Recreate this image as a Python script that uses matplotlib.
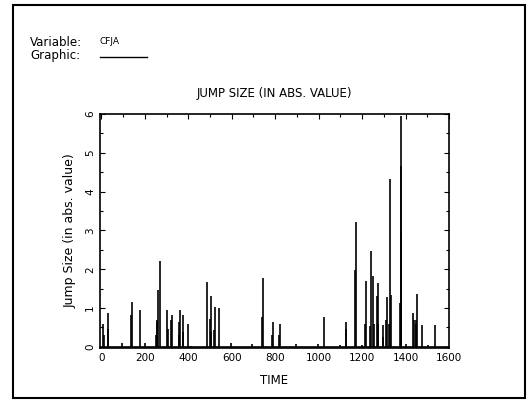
import matplotlib
matplotlib.use("Agg")
import matplotlib.pyplot as plt
from matplotlib.patches import Rectangle
from matplotlib.ticker import MultipleLocator

# Jump times and absolute jump sizes
jump_time = [6, 12, 29, 32, 94, 137, 140, 179, 199, 252, 255, 258, 263, 268,
             303, 306, 322, 324, 356, 358, 361, 374, 376, 397, 412, 486, 500,
             505, 507, 520, 522, 540, 595, 694, 740, 745, 786, 791, 819, 822,
             897, 998, 1025, 1098, 1126, 1128, 1169, 1171, 1201, 1213, 1219,
             1236, 1240, 1252, 1255, 1268, 1271, 1273, 1294, 1298, 1312, 1314,
             1326, 1329, 1331, 1376, 1378, 1380, 1381, 1401, 1435, 1438, 1448,
             1450, 1452, 1474, 1502, 1535]
jump_size = [0.60, 0.30, 0.86, 0.47, 0.09, 0.82, 1.16, 0.95, 0.11, 0.30, 0.69,
             0.65, 1.46, 2.22, 0.95, 0.47, 0.69, 0.82, 0.30, 0.65, 0.95, 0.81,
             0.38, 0.60, 0.03, 1.68, 0.73, 0.38, 1.31, 0.43, 1.03, 0.99, 0.11,
             0.08, 0.77, 1.77, 0.30, 0.64, 0.30, 0.59, 0.08, 0.08, 0.77, 0.05,
             0.45, 0.64, 1.98, 3.23, 0.05, 0.60, 1.70, 0.55, 2.48, 1.83, 0.60,
             1.30, 1.64, 0.60, 0.26, 0.57, 0.69, 1.29, 0.60, 4.33, 1.33, 1.12,
             5.95, 4.65, 2.94, 0.08, 0.86, 0.69, 0.60, 0.70, 1.37, 0.57, 0.05,
             0.57]

x_ticks = [0, 200, 400, 600, 800, 1000, 1200, 1400, 1600]
y_ticks = [0, 1, 2, 3, 4, 5, 6]

plt.rcParams['font.family'] = ['DejaVu Sans']

fig = plt.figure(figsize=(5.32, 4.05), dpi=100)
ax = fig.add_axes([0.188, 0.1407, 0.656, 0.5778])

ax.vlines(jump_time, 0, jump_size, color='black', linewidth=1.2)
ax.axhline(0, color='black', linewidth=1.2)

ax.set_xlim(-6, 1600)
ax.set_ylim(-0.03, 6)
ax.set_xticks(x_ticks)
ax.set_yticks(y_ticks)
ax.xaxis.set_minor_locator(MultipleLocator(100))
ax.yaxis.set_minor_locator(MultipleLocator(0.5))
ax.tick_params(which='both', direction='in', top=True, right=True,
               labelsize=7.5, width=0.8)
ax.tick_params(which='major', length=3.5)
ax.tick_params(which='minor', length=2.5)
ax.tick_params(axis='x', which='both', bottom=False)
for lab in ax.get_yticklabels():
    lab.set_rotation(90)
    lab.set_va('center')
for sp in ax.spines.values():
    sp.set_linewidth(1.2)

ax.set_title('JUMP SIZE (IN ABS. VALUE)', fontsize=8.5, pad=12)
ax.set_xlabel('TIME', fontsize=8.5, labelpad=8)
ax.set_ylabel('Jump Size (in abs. value)', fontsize=9, labelpad=6)

# header
fig.text(30 / 532, 1 - 42 / 405, 'Variable:', fontsize=8.5, va='center')
fig.text(100 / 532, 1 - 42 / 405, 'CFJA', fontsize=6.5, va='center')
fig.text(30 / 532, 1 - 56 / 405, 'Graphic:', fontsize=8.5, va='center')
fig.add_artist(plt.Line2D([100 / 532, 147 / 532], [1 - 57 / 405, 1 - 57 / 405],
                          color='black', linewidth=1.0))

# outer frame
fig.add_artist(Rectangle((13 / 532, 1 - 398 / 405), (525 - 13) / 532,
                         (398 - 5) / 405, fill=False, edgecolor='black',
                         linewidth=1.5, transform=fig.transFigure))

fig.savefig('out.png', dpi=100)
